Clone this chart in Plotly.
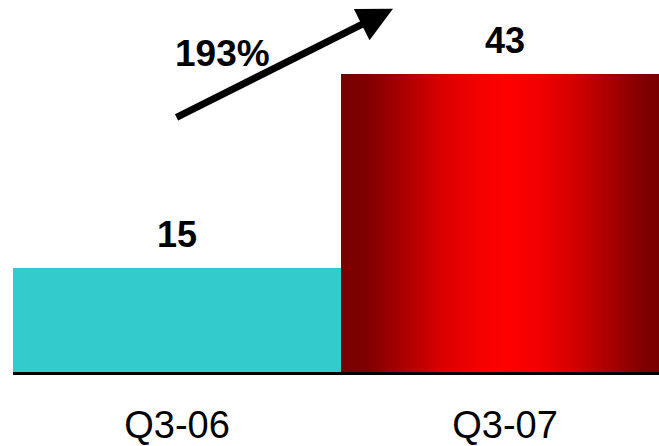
import plotly.graph_objects as go

# Quarterly totals
categories = ["Q3-06", "Q3-07"]
values = [15, 43]
growth_label = "193%"

bar_colors = ["#33CCCC"]
red_scale = [[0.0, "#760000"], [0.08, "#800000"], [0.2, "#b00000"],
             [0.3, "#d80000"], [0.4, "#f20000"], [0.5, "#ff0000"],
             [0.6, "#f20000"], [0.7, "#d80000"], [0.8, "#b00000"],
             [0.92, "#800000"], [1.0, "#760000"]]

FONT = "Liberation Sans, Arial, sans-serif"
pos = list(range(len(categories)))

fig = go.Figure()

# first quarter: flat teal bar
fig.add_trace(go.Bar(x=[pos[0]], y=[values[0]], width=1.0,
                     marker=dict(color=bar_colors[0], line=dict(width=0)),
                     hoverinfo="skip", showlegend=False))

# second quarter: bar outline filled with a horizontal red gradient
x0, x1 = pos[1] - 0.5, pos[1] + 0.5
fig.add_trace(go.Scatter(x=[x0, x1, x1, x0, x0],
                         y=[0, 0, values[1], values[1], 0],
                         mode="lines", line=dict(width=0),
                         fill="toself",
                         fillgradient=dict(type="horizontal", colorscale=red_scale),
                         hoverinfo="skip", showlegend=False))

# value labels above each bar
for p, v in zip(pos, values):
    fig.add_annotation(x=p, y=v, text=f"<b>{v}</b>", showarrow=False,
                       yanchor="bottom", yshift=11,
                       font=dict(family=FONT, size=36, color="black"))

# growth arrow and percentage
fig.add_annotation(x=0.6585, y=52.4, ax=-0.006, ay=36.65,
                   xref="x", yref="y", axref="x", ayref="y",
                   text="", showarrow=True, arrowhead=2, arrowsize=1.0,
                   arrowwidth=7, arrowcolor="black", standoff=0)
fig.add_annotation(x=0.140, y=45.96, text=f"<b>{growth_label}</b>",
                   showarrow=False, xanchor="center", yanchor="middle",
                   font=dict(family=FONT, size=37, color="black"))

fig.update_layout(
    width=659, height=446,
    margin=dict(l=13, r=0, t=0, b=74),
    paper_bgcolor="white", plot_bgcolor="white",
    bargap=0,
    xaxis=dict(range=[-0.5, -0.5 + 646 / 328], tickvals=pos, ticktext=categories,
               showgrid=False, zeroline=False, showline=True,
               linecolor="black", linewidth=3, ticks="",
               automargin=False, ticklabelstandoff=17,
               tickfont=dict(family=FONT, size=38, color="black"),
               fixedrange=True),
    yaxis=dict(range=[0, 372 / 6.93], visible=False, showgrid=False,
               zeroline=False, fixedrange=True, automargin=False),
)

fig.write_html("out.html")
